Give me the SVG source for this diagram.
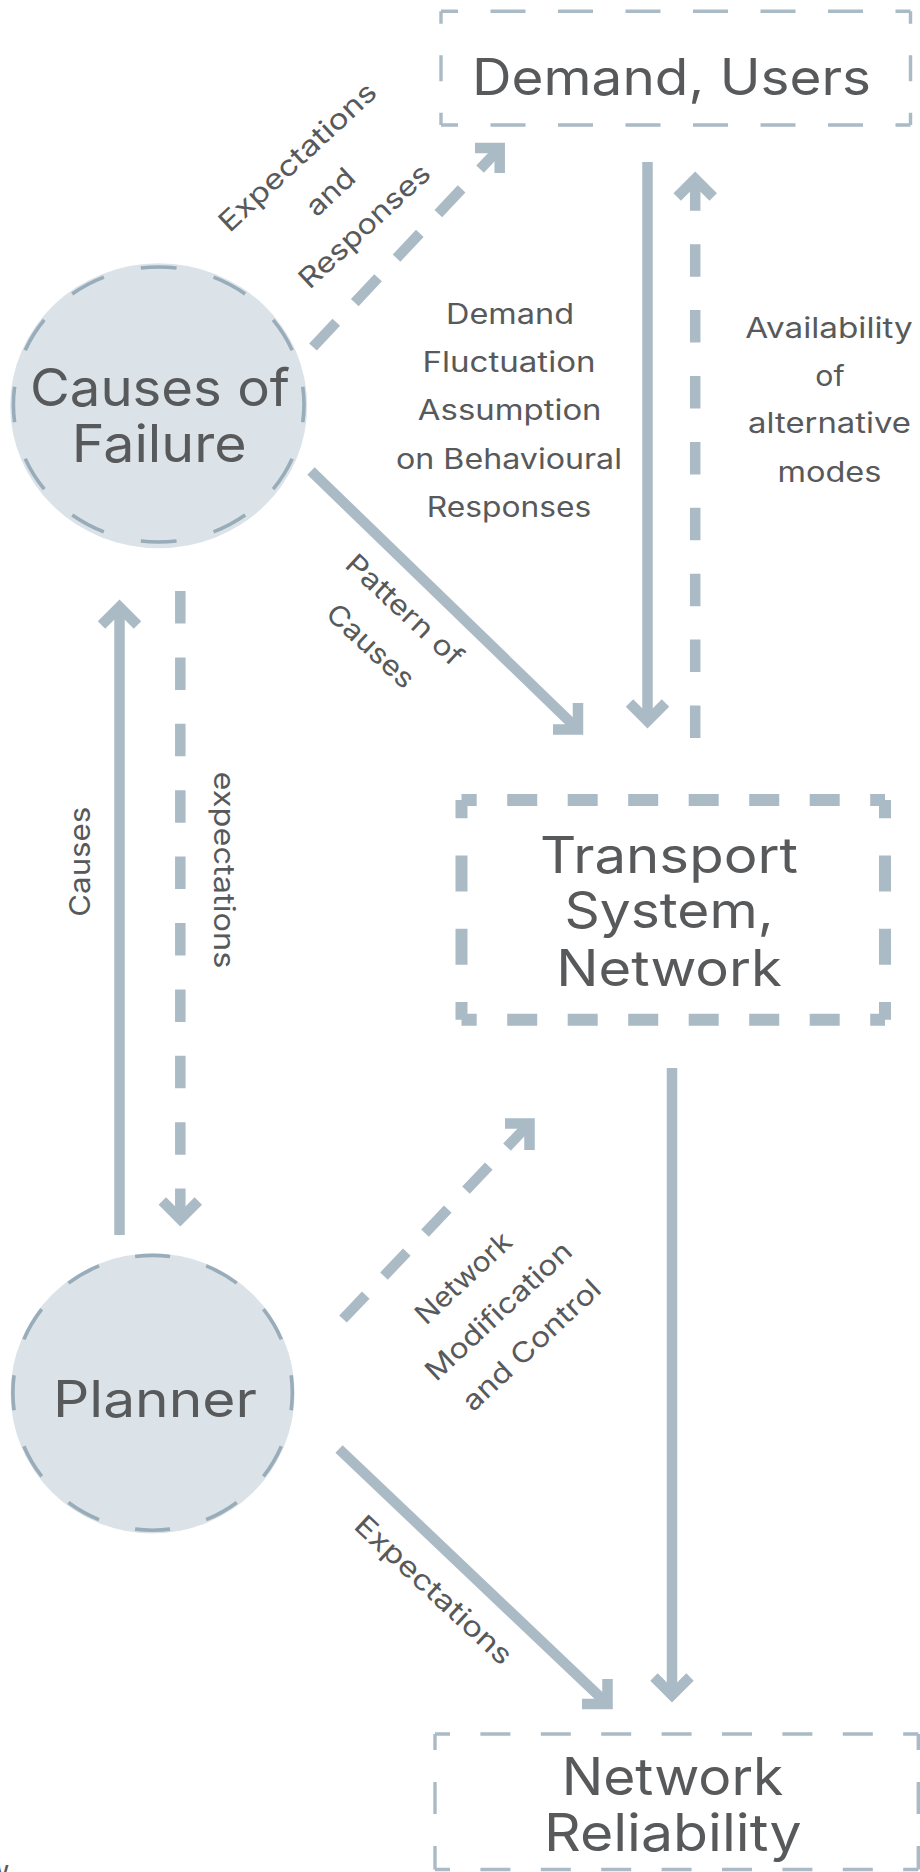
<svg xmlns="http://www.w3.org/2000/svg" width="920" height="1872" viewBox="0 0 920 1872">
  <style>
    .t { font-family: Inter, "Open Sans", "DejaVu Sans", sans-serif; fill: #58595b; text-anchor: middle; }
    .big { font-size: 50px; }
    .big2 { font-size: 52px; }
    .lbl { font-size: 28px; }
    .vlbl { font-size: 29px; }
    .ln { fill: none; stroke: #abbbc6; stroke-width: 10.5; }
    .hd { fill: none; stroke: #abbbc6; stroke-width: 10.5; stroke-linejoin: miter; stroke-miterlimit: 10; }
    .thin { fill: none; stroke: #abbbc6; stroke-width: 3.4; }
    .thick { fill: none; stroke: #abbbc6; stroke-width: 12; }
    .cfill { fill: #dbe2e8; }
    .cdash { fill: none; stroke: #98acba; stroke-width: 3.6; stroke-dasharray: 4.85 5.15; stroke-dashoffset: 2.425; }
  </style>

  <g id="demand-users">
    <path class="thin" d="M441 11.3 H910.5 M441 125 H910.5" stroke-dasharray="35 32.5" stroke-dashoffset="18"/>
    <path class="thin" d="M441 11.3 V125 M910.5 11.3 V125" stroke-dasharray="26 31.5" stroke-dashoffset="13.6"/>
    <text class="t big" x="671.5" y="95" textLength="399" lengthAdjust="spacingAndGlyphs">Demand, Users</text>
  </g>

  <g id="causes-of-failure">
    <ellipse class="cfill" cx="158.7" cy="405.8" rx="148.5" ry="142.5"/>
    <ellipse class="cdash" cx="158.7" cy="404.5" rx="145.3" ry="137.5" pathLength="120"/>
    <text class="t big2" x="160" y="406" textLength="260" lengthAdjust="spacingAndGlyphs">Causes of</text>
    <text class="t big2" x="159.2" y="461.7" textLength="175" lengthAdjust="spacingAndGlyphs">Failure</text>
  </g>

  <g id="transport-system">
    <path class="thick" d="M461.5 800 H885 M461.5 1019.7 H885" stroke-dasharray="30 30.5" stroke-dashoffset="14.8"/>
    <path class="thick" d="M461.5 800 V1019.7 M885 800 V1019.7" stroke-dasharray="36 37.2" stroke-dashoffset="17.7"/>
    <text class="t big" x="669" y="873" textLength="258" lengthAdjust="spacingAndGlyphs">Transport</text>
    <text class="t big" x="669" y="928.4" textLength="209" lengthAdjust="spacingAndGlyphs">System,</text>
    <text class="t big" x="669" y="985.8" textLength="225.7" lengthAdjust="spacingAndGlyphs">Network</text>
  </g>

  <g id="planner">
    <ellipse class="cfill" cx="152.6" cy="1393.4" rx="142" ry="140"/>
    <ellipse class="cdash" cx="152.6" cy="1392.8" rx="139.7" ry="137.4" pathLength="120"/>
    <text class="t big" x="155" y="1417.3" textLength="204" lengthAdjust="spacingAndGlyphs">Planner</text>
  </g>

  <g id="network-reliability">
    <path class="thin" d="M435 1734 H918.3 M435 1869.5 H918.3" stroke-dasharray="30 30.4" stroke-dashoffset="15"/>
    <path class="thin" d="M435 1734 V1869.5 M918.3 1734 V1869.5" stroke-dasharray="32 32" stroke-dashoffset="16"/>
    <text class="t big2" x="672.5" y="1795" textLength="221.7" lengthAdjust="spacingAndGlyphs">Network</text>
    <text class="t big2" x="672.8" y="1850.7" textLength="257.7" lengthAdjust="spacingAndGlyphs">Reliability</text>
  </g>

  <g id="connectors">
    <!-- Causes of Failure -> Demand, Users (dashed) -->
    <path class="ln" d="M313 347 L500 148" stroke-dasharray="34 27"/>
    <polyline class="hd" points="475,148 499.7,148 499.7,173"/>
    <!-- Demand -> Transport (solid) -->
    <path class="ln" d="M647.5 162 V721"/>
    <polyline class="hd" points="629.5,703 647.5,721 665.5,703"/>
    <!-- Transport -> Demand (dashed) -->
    <path class="ln" d="M695.2 738 V179" stroke-dasharray="32.5 33.4"/>
    <polyline class="hd" points="677.2,197 695.2,179 713.2,197"/>
    <!-- Causes of Failure -> Transport (solid) -->
    <path class="ln" d="M311 471 L578 729.5"/>
    <polyline class="hd" points="553,729.5 578,729.5 578,703"/>
    <!-- Planner -> Causes of Failure (solid) -->
    <path class="ln" d="M119.5 1235 V607"/>
    <polyline class="hd" points="101.5,625 119.5,607 137.5,625"/>
    <!-- Causes of Failure -> Planner (dashed) -->
    <path class="ln" d="M180.3 591 V1219" stroke-dasharray="32.5 33.9"/>
    <polyline class="hd" points="162.3,1201 180.3,1219 198.3,1201"/>
    <!-- Transport -> Network Reliability (solid) -->
    <path class="ln" d="M672 1068 V1695"/>
    <polyline class="hd" points="654,1677 672,1695 690,1677"/>
    <!-- Planner -> Transport (dashed) -->
    <path class="ln" d="M343 1319 L529.5 1123.5" stroke-dasharray="33 26.4"/>
    <polyline class="hd" points="505,1123.5 529.5,1123.5 529.5,1150"/>
    <!-- Planner -> Network Reliability (solid) -->
    <path class="ln" d="M339 1449 L607.5 1704"/>
    <polyline class="hd" points="582,1704 607.5,1704 607.5,1679"/>
  </g>

  <g id="labels">
    <text class="t lbl" transform="translate(304,164) rotate(-43)" textLength="204" lengthAdjust="spacingAndGlyphs">Expectations</text>
    <text class="t lbl" transform="translate(337,199) rotate(-43)" textLength="56" lengthAdjust="spacingAndGlyphs">and</text>
    <text class="t lbl" transform="translate(371,233) rotate(-43)" textLength="168" lengthAdjust="spacingAndGlyphs">Responses</text>

    <text class="t lbl" x="510" y="324" textLength="128" lengthAdjust="spacingAndGlyphs">Demand</text>
    <text class="t lbl" x="509" y="372" textLength="173" lengthAdjust="spacingAndGlyphs">Fluctuation</text>
    <text class="t lbl" x="509.7" y="420" textLength="183.7" lengthAdjust="spacingAndGlyphs">Assumption</text>
    <text class="t lbl" x="509" y="468.6" textLength="226" lengthAdjust="spacingAndGlyphs">on Behavioural</text>
    <text class="t lbl" x="509" y="516.5" textLength="164.5" lengthAdjust="spacingAndGlyphs">Responses</text>

    <text class="t lbl" x="829" y="338" textLength="167.6" lengthAdjust="spacingAndGlyphs">Availability</text>
    <text class="t lbl" x="830" y="385.5" textLength="29.3" lengthAdjust="spacingAndGlyphs">of</text>
    <text class="t lbl" x="829.5" y="433" textLength="162.8" lengthAdjust="spacingAndGlyphs">alternative</text>
    <text class="t lbl" x="829.5" y="481.6" textLength="104" lengthAdjust="spacingAndGlyphs">modes</text>

    <text class="t lbl" transform="translate(398,617) rotate(43)" textLength="149" lengthAdjust="spacingAndGlyphs">Pattern of</text>
    <text class="t lbl" transform="translate(364,653) rotate(43)" textLength="109" lengthAdjust="spacingAndGlyphs">Causes</text>

    <text class="t vlbl" transform="translate(90,861.7) rotate(-90)" textLength="110" lengthAdjust="spacingAndGlyphs">Causes</text>
    <text class="t vlbl" transform="translate(214,870) rotate(90)" textLength="197" lengthAdjust="spacingAndGlyphs">expectations</text>

    <text class="t lbl" transform="translate(470,1285) rotate(-43)" textLength="120" lengthAdjust="spacingAndGlyphs">Network</text>
    <text class="t lbl" transform="translate(505,1318) rotate(-43)" textLength="189" lengthAdjust="spacingAndGlyphs">Modification</text>
    <text class="t lbl" transform="translate(538,1352) rotate(-43)" textLength="178" lengthAdjust="spacingAndGlyphs">and Control</text>

    <text class="t lbl" transform="translate(427,1597) rotate(43)" textLength="204" lengthAdjust="spacingAndGlyphs">Expectations</text>

    <text class="t lbl" x="-2" y="1881">w</text>
  </g>
</svg>
